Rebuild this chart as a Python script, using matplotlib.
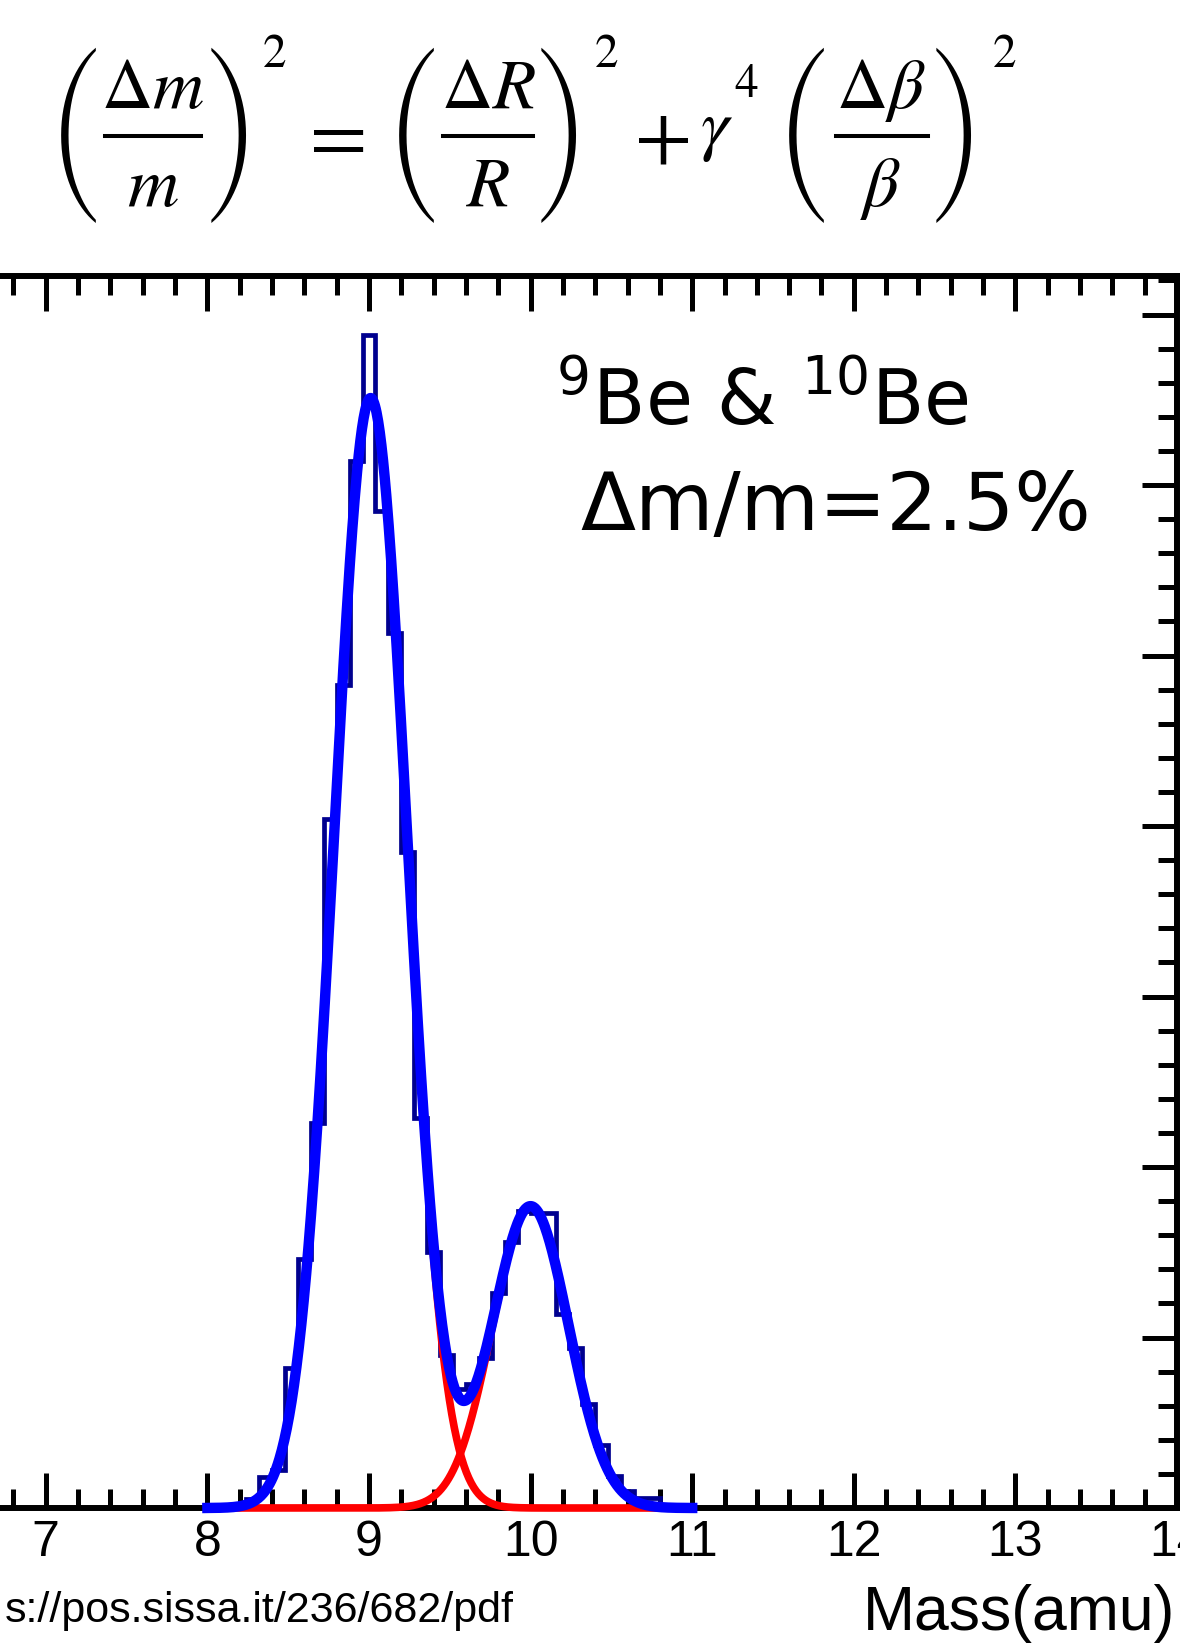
import numpy as np
import matplotlib
matplotlib.use('Agg')
import matplotlib.pyplot as plt
from matplotlib.lines import Line2D
from matplotlib.ticker import MultipleLocator

# mass histogram, 100 bins of 0.08 amu between 6 and 14 amu (empty bins left out)
bin_lo, bin_hi, n_bins = 6.0, 14.0, 100
bin_centers = [8.20, 8.28, 8.36, 8.44, 8.52, 8.60, 8.68, 8.76, 8.84, 8.92,
               9.00, 9.08, 9.16, 9.24, 9.32, 9.40, 9.48, 9.56, 9.64, 9.72,
               9.80, 9.88, 9.96, 10.04, 10.12, 10.20, 10.28, 10.36, 10.44, 10.52,
               10.60, 10.68, 10.76, 10.84, 10.92]
bin_counts = [1, 5, 18, 22, 82, 146, 226, 404, 483, 614,
              688, 585, 513, 385, 229, 150, 90, 70, 73, 88,
              126, 156, 174, 173, 173, 114, 94, 61, 37, 19,
              10, 6, 6, 2, 1]

# gaussian fit components: amplitude, mean, sigma
be9_fit = [651, 9.01, 0.226]
be10_fit = [177, 10.0, 0.235]
fit_range = [8.0, 11.0]

x_ticks = [6, 7, 8, 9, 10, 11, 12, 13, 14]
y_max = 722.6

# formula pieces
numerators = [r'$\Delta m$', r'$\Delta R$', r'$\Delta\beta$']
denominators = [r'$m$', r'$R$', r'$\beta$']

W, H = 1180, 1645


def gauss(x, amp, mu, sig):
    return amp * np.exp(-0.5 * ((x - mu) / sig) ** 2)


def ptext(x, y, s, **kw):
    # place text using pixel coords measured from the top-left corner
    return fig.text(x / W, 1 - y / H, s, **kw)


edges = np.linspace(bin_lo, bin_hi, n_bins + 1)
counts = np.zeros(n_bins)
for c, n in zip(bin_centers, bin_counts):
    counts[int(round((c - bin_lo) / 0.08 - 0.5))] = n

xf = np.linspace(fit_range[0], fit_range[1], 600)
g9 = gauss(xf, *be9_fit)
g10 = gauss(xf, *be10_fit)

plt.rcParams['mathtext.fontset'] = 'stix'
fig = plt.figure(figsize=(W / 100, H / 100), dpi=100)
ax = fig.add_axes([-0.09814, (H - 1508) / H, 1.09559, (1508 - 276) / H])

ax.stairs(counts, edges, color='#00008f', lw=3.4, zorder=2)
ax.plot(xf, g9, color='#ff0000', lw=5.5, clip_on=False, zorder=3)
ax.plot(xf, g10, color='#ff0000', lw=5.5, clip_on=False, zorder=3)
ax.plot(xf, g9 + g10, color='#0000ff', lw=7.5, clip_on=False, zorder=4)

ax.set_xlim(bin_lo, bin_hi)
ax.set_ylim(0, y_max)
ax.set_xticks(x_ticks)
ax.xaxis.set_minor_locator(MultipleLocator(0.2))
ax.yaxis.set_major_locator(MultipleLocator(100))
ax.yaxis.set_minor_locator(MultipleLocator(20))
ax.tick_params(which='both', direction='in', top=True, right=True, width=3.6)
ax.tick_params(which='major', length=25)
ax.tick_params(which='minor', length=14)
ax.tick_params(axis='x', labelsize=36, pad=9)
for lab in ax.get_xticklabels():
    lab.set_fontfamily('Liberation Sans')
for s in ax.spines.values():
    s.set_linewidth(4.3)

ptext(1175, 1630, 'Mass(amu)', ha='right', va='baseline', fontsize=45,
      family='Liberation Sans')
ptext(514, 1622, 's://pos.sissa.it/236/682/pdf', ha='right', va='baseline',
      fontsize=31, family='Liberation Sans')

ptext(556, 425, r'$^{9}$Be & $^{10}$Be', ha='left', va='baseline', fontsize=55,
      family='DejaVu Sans', math_fontfamily='dejavusans')
ptext(580, 530, 'Δm/m=2.5%', ha='left', va='baseline', fontsize=58,
      family='DejaVu Sans')

# resolution formula, built from pieces so all brackets share one size
frac_x = [153, 488, 881]
bar_span = [(105, 201), (443, 533), (836, 928)]
paren_x = [(77, 230), (415, 560), (805, 955)]
square_x = [275, 606, 1004]
for num, den, fx, (b0, b1), (lx, rx), sx in zip(numerators, denominators, frac_x,
                                                bar_span, paren_x, square_x):
    ptext(fx, 108, num, ha='center', va='baseline', fontsize=51)
    ptext(fx, 206, den, ha='center', va='baseline', fontsize=51)
    fig.add_artist(Line2D([b0 / W, b1 / W], [1 - 136 / H] * 2,
                          transform=fig.transFigure, color='black', lw=2.9))
    ptext(lx, 135, '(', ha='center', va='center', fontsize=41,
          family='STIXSizeFourSym')
    ptext(rx, 135, ')', ha='center', va='center', fontsize=41,
          family='STIXSizeFourSym')
    ptext(sx, 56, '2', ha='center', va='center', fontsize=34, family='STIXGeneral')
ptext(331, 137, r'$=$', ha='center', va='center', fontsize=60)
ptext(662, 137, r'$+$', ha='center', va='center', fontsize=60)
ptext(717, 148, r'$\gamma$', ha='center', va='baseline', fontsize=51)
ptext(746, 86, '4', ha='center', va='center', fontsize=34, family='STIXGeneral')

fig.savefig('out.png', dpi=100)
